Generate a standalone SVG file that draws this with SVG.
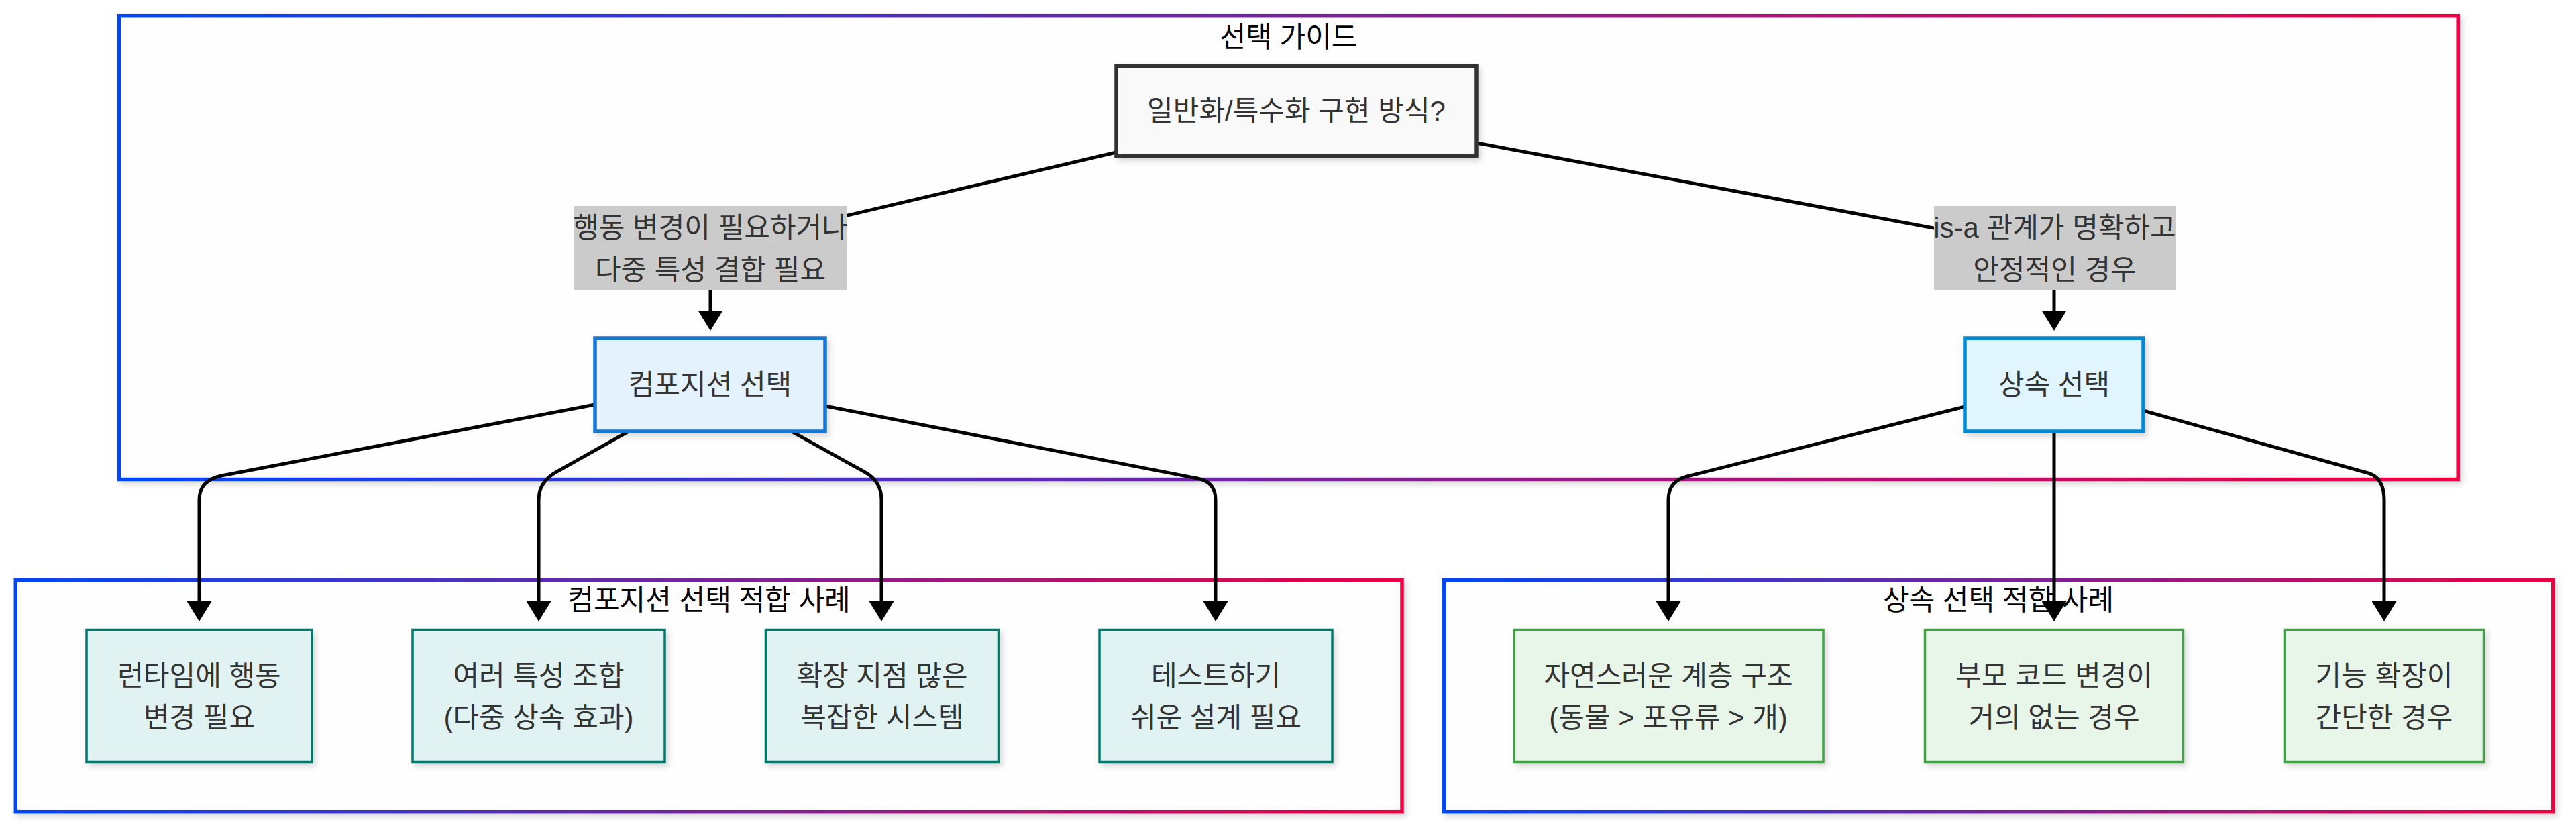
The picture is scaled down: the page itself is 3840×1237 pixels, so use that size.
<svg xmlns="http://www.w3.org/2000/svg" width="3840" height="1237" viewBox="0 0 3840 1237">
<defs>
<linearGradient id="grad" x1="0" y1="0" x2="1" y2="0">
<stop offset="0" stop-color="#0046f5"/>
<stop offset="1" stop-color="#ec0042"/>
</linearGradient>
<filter id="sh" x="-10%" y="-10%" width="120%" height="130%">
<feDropShadow dx="4" dy="5" stdDeviation="4" flood-color="#000" flood-opacity="0.15"/>
</filter>
<marker id="arr" viewBox="0 0 30 37" refX="0" refY="18.5" markerWidth="30" markerHeight="37" markerUnits="userSpaceOnUse" orient="auto" preserveAspectRatio="none">
<path d="M0,0 L30,18.5 L0,37 Z" fill="#000"/>
</marker>
<style>
text{font-family:"Liberation Sans","Noto Sans CJK KR",sans-serif;font-size:42px;text-anchor:middle;fill:#333}
.ct{fill:#000}
.cl{fill:#fefefe;stroke:url(#grad);stroke-width:5.5;filter:url(#sh)}
.e{fill:none;stroke:#000;stroke-width:5;marker-end:url(#arr)}
.lb{fill:#cbcbcb}
.teal{fill:#e0f2f1;stroke:#00796b;stroke-width:3.5;filter:url(#sh)}
.green{fill:#e8f5e9;stroke:#43a047;stroke-width:3.5;filter:url(#sh)}
</style>
</defs>
<rect width="3840" height="1237" fill="#fff"/>
<g id="cluster-guide">
<rect class="cl" x="177.5" y="23.7" width="3486.7" height="690.8"/>
<text class="ct" x="1921" y="70">선택 가이드</text>
</g>
<g id="cluster-comp">
<rect class="cl" x="23.3" y="864.7" width="2066.7" height="345"/>
<text class="ct" x="1057" y="909">컴포지션 선택 적합 사례</text>
</g>
<g id="cluster-inh">
<rect class="cl" x="2152.8" y="864.7" width="1653" height="345"/>
<text class="ct" x="2979" y="909">상속 선택 적합 사례</text>
</g>
<g id="connectors">
<path class="e" d="M1664,227 L1110,357 Q1059,369 1059,400 L1059,463"/>
<path class="e" d="M2201,213 L2990,360 Q3062,374 3062,410 L3062,463"/>
<path class="e" d="M887,603 L330,709 Q297,716 297,745 L297,896"/>
<path class="e" d="M937,643 L830,703 Q803,718 803,745 L803,896"/>
<path class="e" d="M1180,643 L1290,704 Q1314,718 1314,745 L1314,896"/>
<path class="e" d="M1230,605 L1785,713 Q1812,718 1812,745 L1812,896"/>
<path class="e" d="M2929,606 L2515,710 Q2487,717 2487,745 L2487,896"/>
<path class="e" d="M3062,643 L3062,896"/>
<path class="e" d="M3195,612 L3530,705 Q3554,712 3554,745 L3554,896"/>
<g id="label-left">
<rect class="lb" x="855" y="307" width="408" height="125"/>
<text x="1059" y="354">행동 변경이 필요하거나</text>
<text x="1059" y="417">다중 특성 결합 필요</text>
</g>
<g id="label-right">
<rect class="lb" x="2883" y="307" width="360" height="125"/>
<text x="3063" y="354">is-a 관계가 명확하고</text>
<text x="3063" y="417">안정적인 경우</text>
</g>
</g>
<g id="node-question">
<rect x="1664" y="98.5" width="537" height="134" fill="#f9f9f9" stroke="#333" stroke-width="5.5" filter="url(#sh)"/>
<text x="1932.5" y="180">일반화/특수화 구현 방식?</text>
</g>
<g id="node-comp">
<rect x="887" y="504" width="343" height="139" fill="#e3f2fd" stroke="#1976d2" stroke-width="5.5" filter="url(#sh)"/>
<text x="1058.5" y="588">컴포지션 선택</text>
</g>
<g id="node-inh">
<rect x="2929" y="504" width="266" height="139" fill="#e1f5fe" stroke="#0288d1" stroke-width="5.5" filter="url(#sh)"/>
<text x="3062" y="588">상속 선택</text>
</g>
<g id="node-c1">
<rect class="teal" x="129" y="938.5" width="336" height="197"/>
<text x="297" y="1022">런타임에 행동</text>
<text x="297" y="1084">변경 필요</text>
</g>
<g id="node-c2">
<rect class="teal" x="615" y="938.5" width="376" height="197"/>
<text x="803" y="1022">여러 특성 조합</text>
<text x="803" y="1084">(다중 상속 효과)</text>
</g>
<g id="node-c3">
<rect class="teal" x="1141.5" y="938.5" width="347" height="197"/>
<text x="1315" y="1022">확장 지점 많은</text>
<text x="1315" y="1084">복잡한 시스템</text>
</g>
<g id="node-c4">
<rect class="teal" x="1639" y="938.5" width="347" height="197"/>
<text x="1812.5" y="1022">테스트하기</text>
<text x="1812.5" y="1084">쉬운 설계 필요</text>
</g>
<g id="node-i1">
<rect class="green" x="2257" y="938.5" width="461" height="197"/>
<text x="2487" y="1022">자연스러운 계층 구조</text>
<text x="2487" y="1084">(동물 &gt; 포유류 &gt; 개)</text>
</g>
<g id="node-i2">
<rect class="green" x="2869.5" y="938.5" width="385" height="197"/>
<text x="3062" y="1022">부모 코드 변경이</text>
<text x="3062" y="1084">거의 없는 경우</text>
</g>
<g id="node-i3">
<rect class="green" x="3405.5" y="938.5" width="297" height="197"/>
<text x="3554" y="1022">기능 확장이</text>
<text x="3554" y="1084">간단한 경우</text>
</g>
</svg>
